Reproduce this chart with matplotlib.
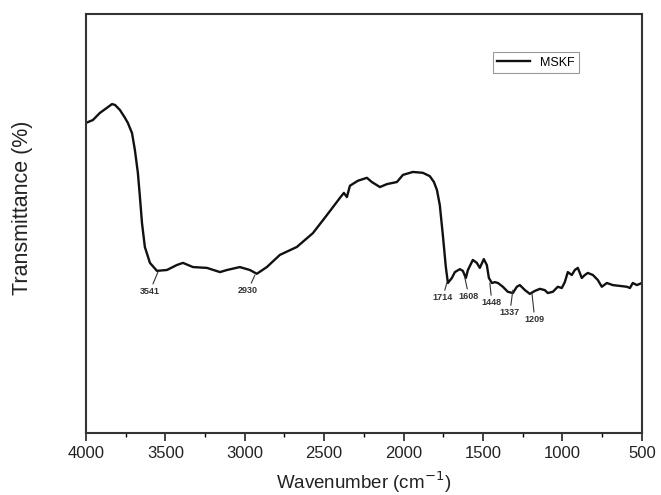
"""FTIR spectrum of MSKF with annotated absorption bands."""

import matplotlib

matplotlib.use("Agg")
import matplotlib.pyplot as plt
from matplotlib.ticker import MultipleLocator

plt.rcParams["font.family"] = ["Liberation Sans", "DejaVu Sans"]

# spectrum (wavenumber cm-1, transmittance a.u. %)
wavenumber = [4000, 3956, 3912, 3868, 3836, 3817, 3786, 3754, 3736, 3710,
              3692, 3673, 3660, 3647, 3629, 3597, 3553, 3490, 3427, 3389,
              3326, 3238, 3156, 3112, 3031, 2968, 2924, 2861, 2779, 2672,
              2571, 2483, 2401, 2376, 2357, 2338, 2288, 2231, 2200, 2149,
              2105, 2042, 2004, 1942, 1879, 1835, 1809, 1790, 1772, 1753,
              1734, 1721, 1696, 1677, 1646, 1627, 1608, 1595, 1564, 1539,
              1520, 1495, 1476, 1463, 1444, 1425, 1406, 1375, 1344, 1312,
              1287, 1268, 1236, 1205, 1174, 1142, 1111, 1092, 1060, 1029,
              1004, 985, 966, 941, 922, 903, 878, 859, 840, 808,
              777, 752, 720, 683, 638, 594, 575, 557, 531, 500]
transmittance = [74.0, 74.7, 76.4, 77.6, 78.5, 78.3, 77.1, 75.2, 74.0, 71.6,
                 67.6, 62.1, 56.3, 50.1, 44.4, 40.6, 38.7, 38.9, 40.1, 40.6,
                 39.6, 39.4, 38.4, 38.9, 39.6, 38.9, 38.0, 39.6, 42.5, 44.4,
                 47.7, 52.0, 56.1, 57.3, 56.3, 59.0, 60.2, 60.9, 59.9, 58.7,
                 59.4, 59.9, 61.6, 62.3, 62.1, 61.3, 59.9, 58.0, 54.4, 47.3,
                 39.6, 35.8, 37.0, 38.4, 39.1, 38.7, 37.0, 38.9, 41.3, 40.6,
                 39.4, 41.5, 40.1, 37.0, 35.8, 36.0, 35.8, 34.9, 33.7, 33.4,
                 34.9, 35.3, 34.1, 33.2, 33.9, 34.4, 34.1, 33.4, 33.7, 34.9,
                 34.6, 36.0, 38.4, 37.7, 38.9, 39.4, 37.0, 37.7, 38.2, 37.7,
                 36.5, 34.9, 35.8, 35.3, 35.1, 34.9, 34.6, 35.8, 35.3, 35.8]

# band labels: text, band position, band depth, label position
peak_labels = ["3541", "2930", "1714", "1608", "1448", "1337", "1209"]
peak_wn = [3547, 2936, 1728, 1614, 1457, 1312, 1192]
peak_t = [38.4, 37.7, 35.8, 37.0, 35.8, 34.1, 33.4]
label_wn = [3597, 2980, 1753, 1589, 1444, 1331, 1174]
label_t = [34.9, 35.1, 33.4, 33.7, 32.2, 29.8, 28.2]

fig = plt.figure(figsize=(6.61, 4.95), dpi=100)
ax = fig.add_axes([0.130, 0.1253, 0.841, 0.8464])

ax.plot(wavenumber, transmittance, color="#111111", lw=1.7, label="MSKF")

for txt, xw, yt, tx, ty in zip(peak_labels, peak_wn, peak_t, label_wn, label_t):
    ax.annotate(txt, xy=(xw, yt), xytext=(tx, ty), ha="center", va="top",
                fontsize=6.5, fontweight="bold", color="#333333",
                arrowprops=dict(arrowstyle="-", color="#333333", lw=0.8,
                                shrinkA=0, shrinkB=0))

ax.set_xlim(4000, 500)
ax.set_ylim(0, 100)
ax.xaxis.set_major_locator(MultipleLocator(500))
ax.xaxis.set_minor_locator(MultipleLocator(250))
ax.tick_params(axis="x", which="major", direction="out", length=6, width=1.2,
               labelsize=12, colors="#222222")
ax.tick_params(axis="x", which="minor", direction="out", length=3, width=1.0)
ax.set_yticks([])

for sp in ax.spines.values():
    sp.set_linewidth(1.5)
    sp.set_color("#333333")

ax.set_xlabel("Wavenumber (cm$^{-1}$)", fontsize=13.5, color="#222222",
              labelpad=6)
ax.set_ylabel("Transmittance (%)", fontsize=15.5, color="#222222")
ax.yaxis.set_label_coords(-0.095, 0.537)

leg = ax.legend(loc="upper left", bbox_to_anchor=(0.732, 0.909),
                fontsize=9, fancybox=False, framealpha=1, edgecolor="#999999",
                handlelength=2.6, borderpad=0.35, borderaxespad=0)
leg.get_frame().set_linewidth(0.8)

fig.savefig("out.png", dpi=100)
